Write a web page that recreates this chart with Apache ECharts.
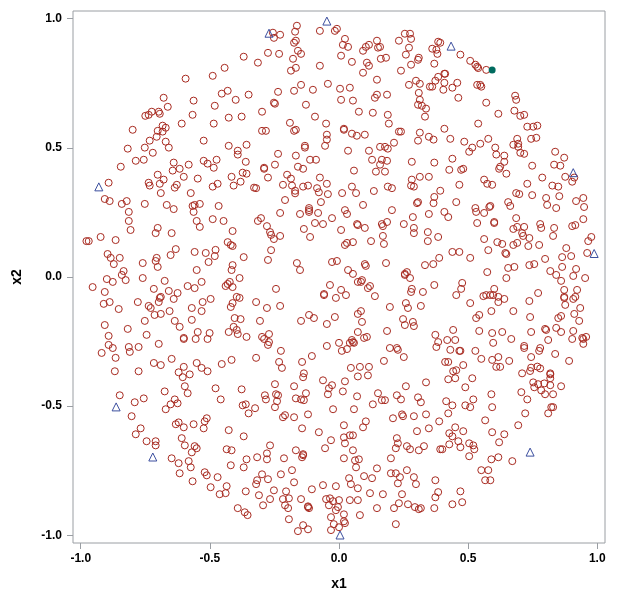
<!DOCTYPE html>
<html>
<head>
<meta charset="utf-8">
<script src="https://cdn.jsdelivr.net/npm/echarts@6/dist/echarts.min.js"></script>
<style>
html, body { margin: 0; padding: 0; background: #fff; }
#chart { width: 622px; height: 595px; }
</style>
</head>
<body>
<div id="chart"></div>
<script>
// [x1, x2], one list per part of the disc
const ringsTopLeft = [[-.369,.853],[-.443,.810],[-.489,.779],[-.594,.768],[-.431,.721],[-.454,.710],[-.350,.706],[-.400,.686],[-.563,.683],[-.679,.694],[-.481,.663],[-.663,.659],[-.698,.640],[-.725,.640],[-.694,.632],[-.737,.628],[-.750,.624],[-.567,.628],[-.427,.617],[-.377,.621],[-.609,.594],[-.485,.594],[-.683,.586],[-.671,.578],[-.799,.570],[-.702,.566],[-.683,.563],[-.706,.543],[-.733,.528],[-.524,.528],[-.671,.524],[-.752,.501],[-.659,.501],[-.818,.497],[-.427,.508],[-.358,.512],[-.392,.489],[-.392,.474],[-.721,.481],[-.787,.450],[-.756,.454],[-.474,.454],[-.524,.450],[-.509,.439],[-.640,.443],[-.582,.435],[-.361,.446],[-.845,.427],[-.485,.423],[-.617,.419],[-.644,.412],[-.702,.396],[-.601,.388],[-.547,.381],[-.416,.388],[-.373,.404],[-.358,.400],[-.381,.369],[-.892,.365],[-.737,.365],[-.679,.377],[-.694,.361],[-.628,.357],[-.470,.361],[-.489,.350],[-.408,.354],[-.733,.354],[-.636,.346]];

const ringsTopMiddle = [[-.163,.973],[-.170,.950],[-.256,.946],[-.228,.938],[-.252,.926],[-.074,.953],[-.016,.953],[-.008,.961],[.023,.922],[.255,.942],[.275,.942],[.279,.922],[.232,.915],[.147,.915],[-.167,.915],[-.174,.907],[.015,.899],[.035,.891],[.116,.899],[.104,.891],[.093,.876],[.151,.888],[.159,.891],[.271,.888],[.259,.861],[-.159,.876],[-.147,.864],[-.275,.868],[-.232,.864],[.008,.857],[-.178,.845],[.162,.845],[.182,.849],[.309,.849],[.306,.841],[-.314,.830],[.050,.833],[.108,.830],[.116,.818],[.279,.822],[-.074,.818],[-.167,.810],[-.186,.799],[.093,.791],[.240,.799],[.147,.764],[.298,.760],[.313,.748],[.271,.744],[-.043,.748],[-.147,.744],[.352,.737],[.004,.729],[.042,.733],[-.174,.721],[-.101,.725],[-.236,.717],[.309,.713],[.147,.706],[.139,.694],[.186,.706],[.008,.686],[.054,.683],[.313,.686],[-.252,.675],[-.248,.671],[-.128,.667],[.306,.667],[.321,.663],[.337,.652],[-.298,.640],[.077,.640],[.131,.636],[.189,.628],[.333,.621],[-.093,.621],[-.190,.597],[-.050,.594],[.193,.594],[-.167,.570],[-.174,.566],[-.298,.566],[-.283,.566],[.019,.574],[.019,.570],[.232,.563],[.240,.563],[.313,.559],[.050,.555],[.069,.547],[.100,.551],[-.047,.551],[-.047,.532],[.348,.543],[.306,.528],[-.054,.508],[-.132,.508],[-.132,.501],[.159,.504],[.178,.504],[.189,.497],[.213,.520],[.035,.489],[.116,.489],[-.236,.477],[-.167,.470],[-.112,.454],[-.089,.454],[.128,.454],[.166,.454],[.186,.450],[.159,.435],[.282,.446],[-.290,.423],[-.290,.419],[-.248,.435],[-.159,.427],[-.139,.419],[.058,.412],[.143,.408],[.178,.408],[-.201,.396],[-.275,.385],[-.186,.381],[-.074,.385],[.313,.388],[.348,.388],[.282,.377],[-.047,.361],[-.217,.357],[-.182,.354],[-.120,.354],[-.139,.350],[.050,.350],[.189,.350],[.279,.354],[.290,.350],[-.085,.344],[.205,.344],[-.329,.346],[-.321,.344]];

const ringsTopRight = [[.384,.911],[.392,.907],[.361,.884],[.377,.880],[.381,.864],[.470,.861],[.508,.837],[.369,.826],[.528,.822],[.535,.814],[.539,.809],[.570,.802],[.408,.787],[.411,.787],[.384,.775],[.373,.760],[.408,.752],[.458,.752],[.535,.744],[.547,.744],[.551,.737],[.361,.737],[.439,.733],[.404,.725],[.682,.702],[.686,.686],[.462,.694],[.570,.675],[.679,.644],[.617,.632],[.702,.624],[.717,.628],[.539,.594],[.729,.582],[.752,.582],[.768,.586],[.408,.574],[.431,.535],[.366,.532],[.578,.535],[.690,.535],[.744,.535],[.764,.539],[.485,.524],[.547,.516],[.675,.512],[.694,.516],[.694,.504],[.516,.501],[.605,.501],[.504,.485],[.702,.481],[.717,.477],[.609,.474],[.640,.470],[.837,.485],[.872,.462],[.439,.458],[.640,.446],[.369,.443],[.624,.427],[.620,.419],[.748,.431],[.833,.435],[.857,.431],[.481,.419],[.473,.415],[.427,.415],[.648,.400],[.876,.388],[.787,.385],[.562,.377],[.911,.385],[.903,.369],[.574,.361],[.466,.357],[.593,.357],[.729,.361],[.826,.354],[.849,.350]];

const ringsMiddleLeft = [[-.690,.325],[-.574,.325],[-.907,.302],[-.888,.294],[-.822,.294],[-.841,.283],[-.752,.283],[-.667,.279],[-.640,.263],[-.567,.275],[-.559,.279],[-.539,.283],[-.466,.275],[-.814,.252],[-.563,.252],[-.814,.217],[-.489,.224],[-.551,.217],[-.447,.217],[-.539,.194],[-.702,.190],[-.807,.182],[-.412,.178],[-.710,.170],[-.648,.170],[-.923,.155],[-.978,.139],[-.969,.139],[-.865,.143],[-.431,.135],[-.419,.124],[-.412,.120],[-.632,.108],[-.559,.097],[-.516,.093],[-.478,.105],[-.896,.089],[-.652,.085],[-.481,.081],[-.884,.074],[-.849,.074],[-.706,.074],[-.710,.062],[-.369,.077],[-.760,.054],[-.505,.058],[-.872,.050],[-.702,.039],[-.412,.046],[-.416,.027],[-.551,.027],[-.834,.023],[-.841,.008],[-.760,-.004],[-.899,-.008],[-.826,-.012],[-.876,-.019],[-.675,-.015],[-.385,-.004],[-.532,-.019],[-.423,-.019],[-.431,-.027],[-.439,-.035],[-.954,-.039],[-.586,-.035],[-.559,-.043],[-.412,-.039],[-.717,-.046],[-.659,-.054],[-.907,-.058],[-.625,-.062],[-.690,-.077],[-.694,-.081],[-.640,-.085],[-.396,-.077],[-.385,-.081],[-.497,-.085],[-.698,-.097],[-.779,-.097],[-.888,-.097],[-.911,-.104],[-.528,-.097],[-.412,-.101],[-.737,-.112],[-.729,-.120],[-.853,-.124],[-.570,-.120],[-.419,-.116],[-.532,-.132],[-.656,-.132],[-.690,-.143],[-.714,-.147],[-.404,-.159],[-.381,-.163],[-.752,-.170],[-.636,-.170],[-.570,-.166],[-.907,-.186],[-.617,-.193],[-.408,-.193],[-.396,-.205],[-.818,-.201],[-.427,-.213],[-.547,-.213],[-.501,-.217],[-.392,-.221],[-.892,-.228],[-.745,-.224],[-.358,-.232],[-.601,-.236],[-.601,-.240],[-.555,-.240],[-.509,-.240],[-.892,-.263],[-.698,-.259],[-.814,-.271],[-.776,-.271],[-.876,-.275],[-.810,-.290],[-.919,-.294],[-.865,-.313],[-.648,-.317],[-.416,-.321],[-.717,-.333],[-.690,-.341],[-.551,-.333],[-.454,-.337],[-.601,-.348],[-.532,-.352]];

const ringsCentre = [[-.170,.334],[-.170,.324],[-.078,.328],[-.043,.321],[.012,.325],[.066,.325],[.135,.333],[-.209,.298],[-.070,.290],[.093,.279],[-.116,.267],[-.116,.259],[-.116,.252],[-.151,.244],[-.228,.248],[-.081,.248],[.023,.259],[.031,.244],[.205,.259],[.302,.286],[.306,.290],[.286,.232],[.348,.244],[-.027,.228],[-.302,.228],[-.314,.217],[-.093,.209],[-.062,.205],[.070,.205],[.073,.201],[.166,.205],[.170,.197],[.186,.213],[.251,.205],[-.279,.197],[-.136,.186],[.008,.182],[.100,.190],[.290,.190],[-.267,.174],[-.263,.163],[.290,.170],[.344,.174],[-.228,.159],[-.112,.155],[.170,.159],[-.252,.147],[.124,.139],[.054,.135],[.031,.132],[.023,.124],[.174,.128],[.344,.139],[-.263,.104],[-.275,.066],[-.163,.054],[-.027,.058],[-.008,.062],[.100,.050],[.104,.043],[.182,.054],[.333,.046],[-.151,.027],[.035,.027],[.054,.012],[.263,.019],[.255,.012],[.255,.008],[.275,-.004],[.089,-.012],[.073,-.019],[.085,-.019],[-.035,-.031],[.120,-.035],[.112,-.043],[-.244,-.046],[.008,-.050],[.282,-.046],[.279,-.058],[.325,-.058],[-.058,-.066],[-.058,-.070],[.027,-.070],[.139,-.074],[-.012,-.081],[-.321,-.097],[.259,-.101],[-.228,-.112],[.317,-.112],[-.279,-.120],[.197,-.116],[.267,-.120],[.085,-.132],[.073,-.143],[-.116,-.147],[-.097,-.159],[-.016,-.155],[.248,-.163],[-.306,-.170],[-.147,-.170],[.089,-.174],[.286,-.174],[-.047,-.182],[.255,-.186],[.290,-.190],[.073,-.213],[.186,-.209],[-.271,-.221],[-.298,-.232],[-.290,-.240],[.108,-.232],[.097,-.236],[-.271,-.252],[-.275,-.263],[.050,-.244],[.054,-.252],[.058,-.255],[.042,-.255],[.000,-.255],[-.047,-.267],[.197,-.275],[.224,-.275],[.228,-.282],[.031,-.279],[.011,-.286],[-.225,-.286],[-.105,-.306],[.251,-.310],[-.321,-.313],[-.232,-.329],[-.143,-.329],[.174,-.325],[-.221,-.352],[.046,-.352],[.081,-.348],[.116,-.348]];

const ringsMiddleRight = [[.392,.334],[.369,.310],[.366,.286],[.686,.325],[.698,.321],[.748,.317],[.802,.306],[.853,.313],[.946,.306],[.918,.294],[.454,.290],[.655,.290],[.806,.279],[.949,.271],[.528,.267],[.586,.275],[.582,.271],[.663,.275],[.841,.267],[.531,.252],[.408,.252],[.562,.248],[.423,.232],[.686,.228],[.946,.224],[.601,.213],[.601,.209],[.535,.209],[.779,.205],[.915,.201],[.903,.197],[.690,.194],[.717,.194],[.675,.186],[.783,.190],[.833,.190],[.709,.170],[.713,.159],[.829,.159],[.737,.151],[.977,.155],[.384,.155],[.562,.147],[.965,.139],[.613,.135],[.632,.128],[.690,.132],[.675,.124],[.733,.120],[.775,.124],[.880,.112],[.578,.104],[.439,.097],[.466,.097],[.644,.093],[.648,.089],[.961,.093],[.508,.074],[.388,.074],[.864,.077],[.899,.081],[.798,.070],[.365,.050],[.737,.046],[.756,.050],[.655,.035],[.679,.039],[.864,.039],[.574,.019],[.818,.023],[.918,.031],[.841,.008],[.907,.004],[.648,-.004],[.953,-.004],[.860,-.015],[.477,-.023],[.369,-.031],[.473,-.046],[.601,-.046],[.872,-.050],[.922,-.050],[.771,-.062],[.454,-.070],[.559,-.074],[.570,-.070],[.586,-.070],[.597,-.070],[.617,-.077],[.872,-.077],[.872,-.081],[.915,-.077],[.907,-.085],[.640,-.085],[.737,-.093],[.617,-.097],[.508,-.101],[.876,-.108],[.934,-.120],[.590,-.132],[.675,-.132],[.911,-.143],[.543,-.147],[.531,-.159],[.740,-.155],[.860,-.151],[.849,-.159],[.930,-.170],[.442,-.205],[.543,-.209],[.593,-.217],[.632,-.213],[.744,-.213],[.798,-.201],[.802,-.205],[.841,-.197],[.860,-.213],[.907,-.209],[.373,-.224],[.419,-.244],[.450,-.244],[.667,-.240],[.810,-.244],[.903,-.240],[.957,-.232],[.942,-.236],[.946,-.240],[.597,-.255],[.946,-.259],[.384,-.252],[.717,-.267],[.717,-.275],[.377,-.271],[.779,-.275],[.775,-.286],[.431,-.282],[.466,-.286],[.470,-.286],[.528,-.286],[.837,-.298],[.744,-.310],[.617,-.310],[.551,-.317],[.593,-.321],[.659,-.325],[.891,-.325],[.411,-.329],[.423,-.329],[.481,-.341],[.609,-.348],[.624,-.348],[.744,-.351],[.768,-.347],[.779,-.354]];

const ringsBottomLeft = [[-.868,-.365],[-.776,-.365],[-.621,-.369],[-.509,-.365],[-.578,-.377],[-.605,-.388],[-.597,-.423],[-.478,-.431],[-.377,-.435],[-.675,-.443],[-.586,-.450],[-.849,-.458],[-.756,-.470],[-.458,-.474],[-.636,-.474],[-.791,-.485],[-.652,-.493],[-.625,-.489],[-.361,-.493],[-.373,-.497],[-.671,-.512],[-.350,-.528],[-.803,-.539],[-.512,-.547],[-.520,-.559],[-.621,-.563],[-.632,-.570],[-.563,-.570],[-.601,-.582],[-.524,-.586],[-.768,-.586],[-.427,-.593],[-.787,-.609],[-.369,-.617],[-.609,-.624],[-.745,-.636],[-.710,-.636],[-.710,-.652],[-.597,-.652],[-.559,-.655],[-.551,-.663],[-.435,-.667],[-.416,-.671],[-.570,-.679],[-.648,-.702],[-.358,-.706],[-.582,-.713],[-.621,-.721],[-.419,-.729],[-.574,-.737],[-.369,-.737],[-.520,-.756],[-.512,-.768],[-.617,-.760],[-.470,-.775],[-.567,-.791],[-.435,-.810],[-.497,-.814],[-.361,-.830],[-.462,-.841],[-.439,-.837],[-.392,-.895],[-.365,-.911],[-.354,-.922]];

const ringsBottomMiddle = [[-.136,-.373],[-.139,-.388],[.073,-.385],[.112,-.381],[-.062,-.400],[.023,-.404],[.337,-.408],[-.248,-.415],[-.174,-.423],[.259,-.423],[-.027,-.419],[-.039,-.431],[.015,-.443],[-.128,-.450],[-.043,-.454],[.151,-.450],[-.244,-.454],[-.236,-.458],[-.287,-.458],[-.283,-.474],[.070,-.462],[.224,-.458],[.306,-.466],[-.167,-.470],[-.147,-.474],[-.136,-.477],[-.240,-.481],[.166,-.477],[.178,-.477],[.240,-.474],[.317,-.485],[.131,-.493],[-.248,-.504],[-.325,-.508],[-.023,-.512],[.058,-.512],[-.120,-.532],[-.209,-.535],[-.217,-.543],[-.174,-.543],[.244,-.532],[.248,-.539],[.290,-.539],[.337,-.532],[.209,-.547],[.104,-.559],[.019,-.574],[.093,-.582],[-.143,-.586],[.348,-.586],[.302,-.597],[-.078,-.601],[.042,-.613],[.054,-.613],[.019,-.621],[.224,-.624],[-.031,-.632],[.023,-.644],[.228,-.644],[-.267,-.652],[.263,-.655],[.275,-.667],[.329,-.655],[.309,-.671],[.220,-.663],[-.054,-.663],[-.167,-.671],[.054,-.671],[-.279,-.683],[-.139,-.686],[-.139,-.690],[-.143,-.698],[-.317,-.698],[-.279,-.706],[-.213,-.702],[.019,-.702],[.201,-.702],[.077,-.706],[.062,-.710],[.066,-.737],[.147,-.741],[-.182,-.748],[.263,-.748],[-.298,-.764],[-.225,-.764],[.201,-.760],[.220,-.760],[.097,-.771],[.236,-.775],[.290,-.775],[.128,-.779],[-.317,-.787],[-.275,-.783],[.039,-.779],[-.321,-.802],[-.174,-.795],[.228,-.799],[.298,-.802],[.046,-.802],[-.062,-.806],[-.012,-.810],[-.105,-.822],[.073,-.818],[-.252,-.826],[-.205,-.830],[.120,-.837],[.170,-.841],[.244,-.841],[-.310,-.845],[-.267,-.860],[-.217,-.860],[-.194,-.857],[-.147,-.860],[-.035,-.857],[-.050,-.860],[-.023,-.868],[.000,-.864],[.042,-.864],[.073,-.864],[.232,-.876],[.267,-.880],[-.294,-.884],[-.209,-.884],[-.039,-.884],[.294,-.891],[.309,-.899],[.317,-.895],[-.120,-.891],[-.116,-.895],[-.120,-.888],[-.197,-.895],[-.004,-.891],[-.012,-.903],[.147,-.895],[.213,-.895],[.081,-.922],[.019,-.919],[-.031,-.930],[-.194,-.938],[.019,-.946],[.023,-.953],[.220,-.957],[-.020,-.957],[.000,-.969],[-.139,-.961],[-.120,-.977],[-.159,-.984],[-.031,-.980]];

const ringsBottomRight = [[.442,-.365],[.454,-.361],[.740,-.364],[.709,-.373],[.818,-.373],[.818,-.377],[.818,-.392],[.423,-.396],[.450,-.392],[.516,-.392],[.752,-.408],[.771,-.415],[.795,-.412],[.818,-.419],[.860,-.423],[.756,-.427],[.489,-.427],[.783,-.439],[.706,-.446],[.798,-.454],[.829,-.454],[.590,-.454],[.520,-.474],[.729,-.474],[.415,-.481],[.439,-.497],[.489,-.497],[.508,-.504],[.593,-.504],[.822,-.504],[.829,-.504],[.423,-.528],[.721,-.528],[.810,-.528],[.566,-.555],[.388,-.559],[.694,-.574],[.450,-.582],[.481,-.597],[.593,-.601],[.427,-.605],[.640,-.609],[.439,-.617],[.462,-.636],[.620,-.640],[.504,-.644],[.427,-.648],[.520,-.652],[.470,-.659],[.524,-.667],[.392,-.667],[.400,-.667],[.504,-.694],[.590,-.706],[.617,-.698],[.671,-.713],[.551,-.748],[.578,-.748],[.566,-.787],[.586,-.787],[.373,-.787],[.470,-.830],[.384,-.833],[.373,-.853],[.439,-.880],[.477,-.872],[.369,-.895]];

const trianglePoints = [[-.930,.349],[-.271,.944],[-.047,.991],[.434,.894],[.907,.404],[.988,.091],[-.863,-.503],[-.721,-.697],[.004,-.999],[.740,-.678]];
const filledPoints = [[.593,.802]];

const tickValues = [-1, -0.5, 0, 0.5, 1];
const axisMin = -1.03;
const axisMax = 1.03;

const ringPoints = [].concat(ringsTopLeft, ringsTopMiddle, ringsTopRight, ringsMiddleLeft, ringsCentre, ringsMiddleRight, ringsBottomLeft, ringsBottomMiddle, ringsBottomRight);

const frameColor = '#9a9ea3';
const font = '"Liberation Sans", Arial, sans-serif';

const makeAxis = (name, nameGap, labelMargin) => ({
    type: 'value',
    name: name,
    nameLocation: 'middle',
    nameGap: nameGap,
    nameTextStyle: { color: '#000', fontFamily: font, fontWeight: 'bold', fontSize: 14 },
    min: axisMin,
    max: axisMax,
    splitLine: { show: false },
    axisLine: { show: false, onZero: false },
    axisTick: { show: true, length: 6, customValues: tickValues, lineStyle: { color: frameColor, width: 1 } },
    axisLabel: {
        show: true,
        customValues: tickValues,
        margin: labelMargin,
        color: '#000',
        fontFamily: font,
        fontWeight: 'bold',
        fontSize: 12,
        formatter: (v) => v.toFixed(1),
    },
});

const chart = echarts.init(document.getElementById('chart'), null, { renderer: 'canvas' });

chart.setOption({
    animation: false,
    backgroundColor: '#fff',
    grid: {
        left: 73, top: 11, width: 532, height: 532,
        outerBoundsMode: 'none', // keep the frame where it is, names sit close to the edge
        show: true, borderColor: frameColor, borderWidth: 1, backgroundColor: '#fff',
    },
    xAxis: makeAxis('x1', 34, 10),
    yAxis: makeAxis('x2', 49, 11),
    series: [
        {
            name: 'rings',
            type: 'scatter',
            data: ringPoints,
            symbol: 'circle',
            symbolSize: 7,
            itemStyle: { color: 'transparent', borderColor: '#a82a20', borderWidth: 1, opacity: 1 },
        },
        {
            name: 'triangles',
            type: 'scatter',
            data: trianglePoints,
            symbol: 'triangle',
            symbolSize: 8,
            itemStyle: { color: 'transparent', borderColor: '#3c4f9f', borderWidth: 1, opacity: 1 },
        },
        {
            name: 'filled',
            type: 'scatter',
            data: filledPoints,
            symbol: 'circle',
            symbolSize: 7,
            itemStyle: { color: '#006b5f', opacity: 1 },
        },
    ],
});
</script>
</body>
</html>
